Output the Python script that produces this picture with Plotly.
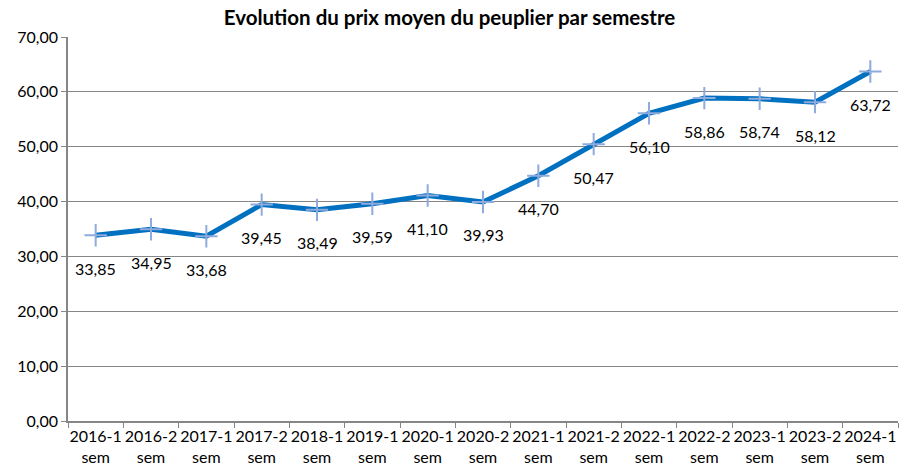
import plotly.graph_objects as go

categories = ["2016-1 sem", "2016-2 sem", "2017-1 sem", "2017-2 sem", "2018-1 sem",
              "2019-1 sem", "2020-1 sem", "2020-2 sem", "2021-1 sem", "2021-2 sem",
              "2022-1 sem", "2022-2 sem", "2023-1 sem", "2023-2 sem", "2024-1 sem"]
prices = [33.85, 34.95, 33.68, 39.45, 38.49, 39.59, 41.10, 39.93, 44.70, 50.47,
          56.10, 58.86, 58.74, 58.12, 63.72]
y_ticks = [0, 10, 20, 30, 40, 50, 60, 70]

FONT = "Lato, Calibri, Carlito, sans-serif"
tick_text = [c.replace(" ", "<br>") for c in categories]

fig = go.Figure()
fig.add_trace(go.Scatter(
    x=categories, y=prices, mode="lines+markers",
    line=dict(color="#0070C0", width=5),
    marker=dict(symbol="cross-thin", size=16, line=dict(color="#8FAADC", width=2), color="#8FAADC"),
    hoverinfo="skip", showlegend=False,
))
for c, v in zip(categories, prices):
    fig.add_annotation(x=c, y=v, text=f"{v:.2f}".replace(".", ","), showarrow=False,
                       yshift=-33, font=dict(family=FONT, size=16, color="#000000"))

fig.update_layout(
    width=899, height=473,
    margin=dict(l=68, r=1, t=37, b=52, autoexpand=False),
    paper_bgcolor="white", plot_bgcolor="white",
    separators=", ",
    title=dict(text="<b>Evolution du prix moyen du peuplier par semestre</b>",
               x=0.5, xanchor="center", y=0.962, yanchor="middle",
               font=dict(family=FONT, size=20.5, color="#000000")),
    font=dict(family=FONT, size=16, color="#000000"),
)
fig.update_xaxes(
    type="category", range=[-0.5, 14.5], tickmode="array", tickvals=categories, ticktext=tick_text,
    tickangle=0, automargin=False,
    tickson="boundaries", ticks="outside", ticklen=5, tickcolor="#868686", tickwidth=1,
    showline=True, linecolor="#868686", linewidth=1.5, showgrid=False,
    tickfont=dict(family=FONT, size=16, color="#000000"),
)
fig.update_yaxes(
    range=[0, 70], tickmode="array", tickvals=y_ticks, tickformat=".2f", automargin=False,
    ticks="outside", ticklen=5, tickcolor="#868686",
    showline=True, linecolor="#868686", linewidth=1.5,
    showgrid=True, gridcolor="#868686", gridwidth=1, zeroline=False,
    tickfont=dict(family=FONT, size=16, color="#000000"),
)
fig.write_html("out.html", config={"displayModeBar": False},
               post_script="document.body.style.margin='0';document.body.style.overflow='hidden';")
